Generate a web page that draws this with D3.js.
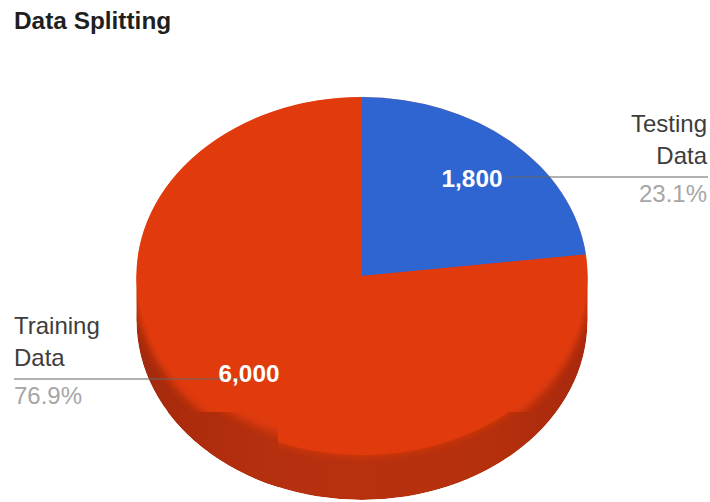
<!DOCTYPE html>
<html>
<head>
<meta charset="utf-8">
<style>
  html, body { margin: 0; padding: 0; background: #fff; }
  svg { display: block; }
  text { font-family: "Liberation Sans", Arial, sans-serif; }
</style>
<script src="https://cdn.jsdelivr.net/npm/d3@7/dist/d3.min.js"></script>
</head>
<body>
<svg id="chart" width="710" height="502"></svg>
<script>
// Chart data
const categories = ["Testing Data", "Training Data"];
const values = [1800, 6000];
const valueLabels = ["1,800", "6,000"];
const percentLabels = ["23.1%", "76.9%"];
const labelLines = [["Testing", "Data"], ["Training", "Data"]];
const topColors = ["#2f65d0", "#e03a0d"];

const width = 710, height = 502;
const cx = 362, cy = 276, rx = 225.5, ry = 179, depth = 45;
const seamX = 278, seamY = 412, seamLift = 8, upperDrop = 10;

const svg = d3.select("#chart");
const defs = svg.append("defs");

// Shading across the wall of the tilted pie
const wallGrad = defs.append("linearGradient").attr("id", "wall")
  .attr("x1", 0).attr("x2", 1).attr("y1", 0).attr("y2", 0);
[[0, "#a32a0e"], [0.12, "#ad2c0c"], [0.3, "#b5300f"], [0.5, "#b8310f"],
 [0.8, "#b5300c"], [1, "#a8290e"]].forEach(([o, c]) =>
  wallGrad.append("stop").attr("offset", o).attr("stop-color", c));

// Soft transition where the top disc meets the wall
defs.append("filter").attr("id", "soft")
  .attr("x", "-5%").attr("y", "-5%").attr("width", "110%").attr("height", "110%")
  .append("feGaussianBlur").attr("stdDeviation", 4);

// Outline of the whole solid, used to keep the soft edge inside it
const solidClip = defs.append("clipPath").attr("id", "solid");
solidClip.append("rect")
  .attr("x", cx - rx).attr("y", cy).attr("width", 2 * rx).attr("height", depth);
solidClip.append("ellipse")
  .attr("cx", cx).attr("cy", cy + depth).attr("rx", rx).attr("ry", ry);
solidClip.append("ellipse")
  .attr("cx", cx).attr("cy", cy).attr("rx", rx).attr("ry", ry);

// Band above the seam, where the disc colour runs further over the wall
defs.append("clipPath").attr("id", "upperBand").append("rect")
  .attr("x", 0).attr("y", 0).attr("width", width).attr("height", seamY);

// Lower-left block, where the rim sits a little higher
defs.append("clipPath").attr("id", "lowerLeft").append("rect")
  .attr("x", 0).attr("y", seamY).attr("width", seamX).attr("height", height - seamY);

// Title
svg.append("text").attr("x", 14).attr("y", 29)
  .attr("font-size", 24.4).attr("font-weight", "bold").attr("fill", "#1f1f1f")
  .text("Data Splitting");

const pie = d3.pie().value(d => d).sort(null);
const arc = d3.arc().innerRadius(0).outerRadius(rx);
const squash = `scale(1,${ry / rx})`;

function softDisc(parent, offset) {
  parent.append("ellipse")
    .attr("cx", cx).attr("cy", cy + offset).attr("rx", rx).attr("ry", ry)
    .attr("fill", topColors[1]).attr("filter", "url(#soft)");
}

// Wall: the disc outline pushed down by the depth
function drawWall(parent) {
  parent.append("rect")
    .attr("x", cx - rx).attr("y", cy).attr("width", 2 * rx).attr("height", depth)
    .attr("fill", "url(#wall)");
  parent.append("ellipse")
    .attr("cx", cx).attr("cy", cy + depth).attr("rx", rx).attr("ry", ry)
    .attr("fill", "url(#wall)");
}
const solid = svg.append("g").attr("clip-path", "url(#solid)");
drawWall(solid);
softDisc(solid, 0);
softDisc(solid.append("g").attr("clip-path", "url(#upperBand)"), upperDrop);

// Top disc, built with a clockwise pie from twelve o'clock and squashed vertically
svg.append("g")
  .attr("transform", `translate(${cx},${cy}) ${squash}`)
  .selectAll("path")
  .data(pie(values))
  .join("path")
  .attr("d", arc)
  .attr("fill", (d, i) => topColors[i]);

// Lower-left block: wall redrawn over the disc edge, with the rim lifted
const block = svg.append("g").attr("clip-path", "url(#lowerLeft)")
  .append("g").attr("clip-path", "url(#solid)");
drawWall(block);
softDisc(block, -seamLift);

// Leader lines
const leaders = [
  { x1: 505, x2: 708, y: 177 },
  { x1: 14, x2: 252, y: 379 }
];
svg.selectAll("line.leader")
  .data(leaders)
  .join("line")
  .attr("class", "leader")
  .attr("x1", d => d.x1).attr("x2", d => d.x2)
  .attr("y1", d => d.y).attr("y2", d => d.y)
  .attr("stroke", "#666").attr("stroke-width", 1.2);

// Value labels on the slices
const valuePos = [{ x: 472, y: 187 }, { x: 249, y: 382 }];
svg.selectAll("text.value")
  .data(valueLabels)
  .join("text")
  .attr("class", "value")
  .attr("x", (d, i) => valuePos[i].x).attr("y", (d, i) => valuePos[i].y)
  .attr("text-anchor", "middle")
  .attr("font-size", 23).attr("font-weight", "bold").attr("fill", "#fff")
  .attr("textLength", 61).attr("lengthAdjust", "spacingAndGlyphs")
  .text(d => d);

// Category names and shares at the ends of the leaders
const side = [
  { x: 707, anchor: "end", nameY: [132, 164], pctY: 202 },
  { x: 14, anchor: "start", nameY: [334, 366], pctY: 404 }
];
categories.forEach((name, i) => {
  const s = side[i];
  labelLines[i].forEach((line, j) => {
    svg.append("text").attr("x", s.x).attr("y", s.nameY[j])
      .attr("text-anchor", s.anchor).attr("font-size", 24).attr("fill", "#3d3d3d")
      .text(line);
  });
  svg.append("text").attr("x", s.x).attr("y", s.pctY)
    .attr("text-anchor", s.anchor).attr("font-size", 24).attr("fill", "#a6a6a6")
    .text(percentLabels[i]);
});
</script>
</body>
</html>
